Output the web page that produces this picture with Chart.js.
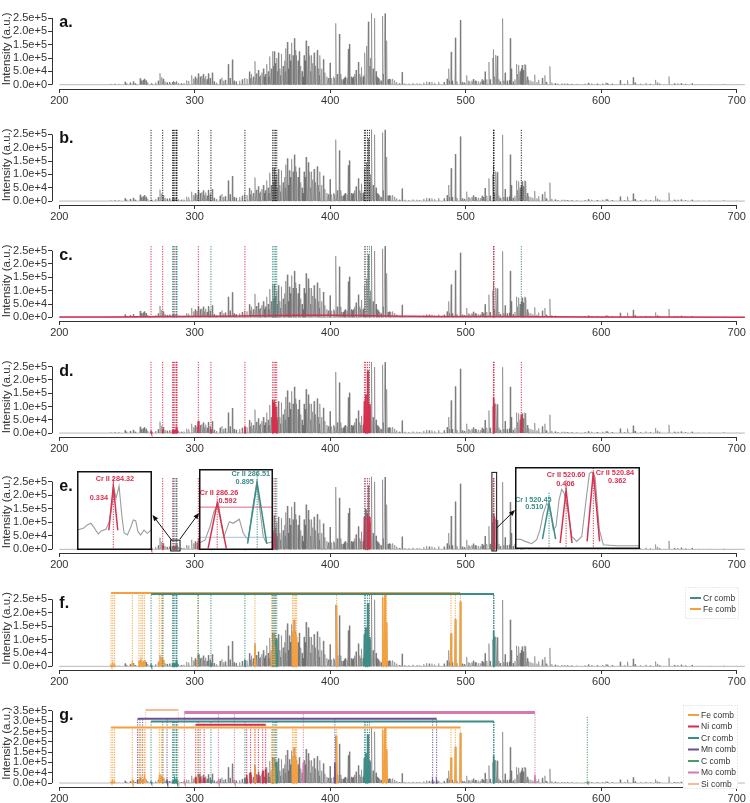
<!DOCTYPE html>
<html><head><meta charset="utf-8">
<script src="https://cdn.jsdelivr.net/npm/chart.js@4.4.1/dist/chart.umd.min.js"></script>
<style>
html,body{margin:0;padding:0;background:#fff;overflow:hidden;width:750px;height:803px}
#wrap{position:relative;width:750px;height:803px;overflow:hidden}
canvas{position:absolute;left:0}
</style></head><body><div id="wrap"></div>
<script>
// ---------------- DATA ----------------
const xTicks=[200,300,400,500,600,700];
const yTicks=[0,50000,100000,150000,200000,250000];
const yTicksG=[0,50000,100000,150000,200000,250000,300000,350000];
const panelLetters=['a.','b.','c.','d.','e.','f.','g.'];
const yTitle='Intensity (a.u.)';

// spectrum lines [wavelength nm, intensity]
const spec236_300=[[238,3e3],[241,4e3],[244,3e3],[248.5,1.1e4],[249.6,6e3],[252.3,8e3],[254.6,1.2e4],[256,5e3],[259.6,2.4e4],[260.6,1.5e4],[261.8,1.8e4],[262.8,2.2e4],[264,1.6e4],[265.2,9e3],[268,5e3],[271,8e3],[273,1.5e4],[274.3,4.3e4],[275.6,2.8e4],[276.7,2.2e4],[278,1.2e4],[279.5,9e3],[281.3,1e4],[283.5,1e4],[284.3,1.4e4],[285.2,9e3],[286.2,1.1e4],[286.6,1.3e4],[288,7e3],[290,5e3],[292,6e3],[294,1.6e4],[295.5,1.4e4],[297.7,3.5e4],[299.2,2.2e4]];
const spec300_400=[[300.3,3e4],[301.5,2.4e4],[302.6,4.2e4],[304,3e4],[305.2,3.3e4],[306.3,4e4],[307.3,2.2e4],[308.2,3.2e4],[309.2,2e4],[310,4.2e4],[311.3,2.5e4],[312.9,4.5e4],[314.3,1.2e4],[316,8e3],[318.6,2e4],[320,2.6e4],[321.2,1.5e4],[322.5,1.8e4],[324.7,7.7e4],[326,2.5e4],[327.7,9.4e4],[329,1.5e4],[330.5,1.2e4],[333,1.5e4],[335,2e4],[336.8,2.5e4],[338.5,2.2e4],[340.3,4.9e4],[341.2,2.5e4],[342,4e4],[343.2,3e4],[344.4,8.8e4],[345.5,4.2e4],[346.9,5.5e4],[347.8,3e4],[348.5,3.5e4],[349.5,4.5e4],[350.6,6e4],[351.4,3e4],[352.1,4e4],[353.1,7.7e4],[354.2,5e4],[354.9,3e4],[355.5,1.06e5],[356.5,6e4],[357.5,1.25e5],[358.1,7e4],[358.7,1.25e5],[359.4,8e4],[360.5,1.0e5],[361.1,5e4],[361.7,1.2e5],[362.8,6e4],[363.4,3.5e4],[364.1,1.15e5],[365.2,7e4],[366.2,9e4],[366.8,5e4],[367.3,1.36e5],[368.3,1.6e5],[369.1,6e4],[369.8,1.15e5],[370.6,9e4],[371.5,1.57e5],[372.5,1.1e5],[373.5,1.74e5],[374.5,1.3e5],[375.2,1.1e5],[376.2,9e4],[377.1,1.25e5],[378.2,7e4],[379.2,5e4],[379.9,3e4],[380.6,1.1e5],[381.4,9e4],[382.1,1.65e5],[382.8,1.55e5],[383.8,1.45e5],[384.9,1.1e5],[385.7,5e4],[386.3,1.1e5],[387.2,8e4],[388,1.2e5],[388.7,4e4],[389.2,7e4],[390.4,1.3e5],[391.4,6e4],[392,3.5e4],[392.4,1.1e5],[393.5,6e4],[394.9,9.5e4],[396,4.5e4],[397.5,3e4],[398.6,2.5e4],[399.8,8.2e4]];
const spec400_500=[[401,2.5e4],[402.5,3e4],[403.3,2.5e4],[404.2,2.3e5],[405.2,4e4],[406.7,1.9e5],[407.8,4e4],[408.6,2e4],[409.5,2e4],[410.3,2.5e4],[411,3e4],[412.3,2.5e4],[413.3,1.34e5],[414.1,1.52e5],[415.5,3e4],[416.3,2.5e4],[417,3e4],[418,4e4],[419,5.5e4],[420.7,8.5e4],[421.8,4e4],[422.6,3e4],[423.2,6.5e4],[424.2,3e4],[424.9,3.5e4],[425.6,1.2e5],[426.8,1.45e5],[428.1,2.36e5],[429.2,7e4],[429.8,1.0e5],[430.6,2.68e5],[431.6,6e4],[432.7,2.49e5],[433.8,5e4],[434.5,3e4],[435.5,2.5e4],[436.5,2e4],[437.5,1.5e4],[438.6,2.57e5],[439.3,4e4],[440.4,2.67e5],[441.6,1.65e5],[442.6,2e4],[443.6,2.2e4],[444.6,2e4],[446,2.2e4],[447.5,1.6e4],[449,1e4],[451,5e3],[453,4.7e4],[455,5e3],[458,4e3],[461,6e3],[464,5e3],[466,4e3],[469,8e3],[471,1.2e4],[473,1e4],[475,1e4],[477,7e3],[480,1.1e4],[484,1e4],[486.2,2.2e4],[487.4,6e4],[488.2,1.5e4],[489.2,1.23e5],[490,1.5e4],[492.3,1.76e5],[493.5,1.2e4],[496,2.42e5],[497.5,1e4],[499,8e3]];
const spec500_706=[[500.7,3.5e4],[502,1.5e4],[503,1.2e4],[504.5,1.5e4],[505.6,2.1e4],[507,1.5e4],[508,1.4e4],[509.5,1.2e4],[511,1.1e4],[512,2e4],[513,1.5e4],[514.2,4.9e4],[515.5,2e4],[517.1,8.5e4],[518,2e4],[520,1.0e5],[520.6,1.32e5],[521.4,3e4],[522.3,1.11e5],[523.3,1.08e5],[524.5,2e4],[525.5,1.2e4],[527.2,2.48e5],[528.2,1.5e4],[529,4.5e4],[530.5,1.5e4],[532.2,1.7e4],[532.8,1.74e5],[533.6,6e4],[535,1.2e4],[536.3,2e4],[537.5,7.7e4],[538.4,4e4],[539.2,7.4e4],[540.1,5e4],[541,6e4],[541.6,7.4e4],[542.5,5.5e4],[543.6,7.7e4],[544.4,7.4e4],[545.5,3e4],[546.5,1.8e4],[548,1.5e4],[549.5,1.2e4],[550.9,3.75e4],[552.5,1e4],[553.8,1.8e4],[556.5,2.5e4],[558.4,3.5e4],[559.5,1e4],[562.1,6.9e4],[563.5,8e3],[566,6e3],[568,4e3],[571,5e3],[573,5e3],[575,4e3],[578,3e3],[582,3e3],[588,4e3],[590.5,7e3],[593,5e3],[597,4e3],[601,5e3],[603.5,8e3],[604.5,6e3],[608,4e3],[614,1.7e4],[617,3e3],[619.4,1.7e4],[623.6,2.8e4],[625,8e3],[629,4e3],[633,6e3],[636,3e3],[640.1,1.8e4],[641.5,9e3],[643,5e3],[650,3.1e4],[654,5e3],[656.5,5e3],[659,6e3],[662,3e3],[667,5e3],[672,2e3],[680,2e3],[690,2e3],[700,1.5e3]];

// fitted baseline (panel c)
const baseX=[200,240,280,320,360,380,400,420,440,480,520,560,600,650,706];
const baseY=[1000,1500,3000,4500,7000,8000,7500,6500,5000,3500,3000,2500,1500,1000,800];

// Cr lines (panels b-e)
const crLines=[267.7,276.3,283.6,284.3,285.2,286.2,286.5,286.9,302.6,311.9,337.0,357.5,358.5,359.5,360.5,425.2,426.1,427.5,428.9,520.45,520.6,520.84,541.0];
const cColors=['r','r','t','t','r','t','t','t','r','t','r','t','t','t','t','t','r','t','t','t','r','r','t'];
const eColors=['r','r','t','r','t','r','t','t','r','t','r','r','t','r','t','r','t','r','r','t','r','r','t'];
const dPeakY=[5e3,1.5e4,1.2e4,1.3e4,1.1e4,1.2e4,1.2e4,1e4,4.5e4,1.5e4,2.5e4,1.25e5,1.15e5,1e5,6e4,1.2e5,1.45e5,2.35e5,1.1e5,1e5,1.32e5,1.1e5,7e4];
const ePeakY=[5e3,1.5e4,1.2e4,1.3e4,1.1e4,1.2e4,1.2e4,1e4,3e4,1.2e4,2e4,6e4,5.5e4,6e4,4e4,1.2e5,1.5e5,1.3e5,1.2e5,9e4,1.3e5,1.2e5,6e4];

// element combs (panels f, g)
const crCombLines=[267.7,276.3,283.6,284.3,285.2,286.2,286.5,286.9,302.6,311.9,337.0,357.5,358.5,359.5,360.5,425.2,426.1,427.5,428.9,520.45,520.6,520.84];
const crCombPeakY=[5e3,1.5e4,1.2e4,1.3e4,1.1e4,1.2e4,1.2e4,1e4,4.5e4,1.5e4,2.5e4,1.25e5,1.15e5,1e5,1.05e5,1.2e5,1.45e5,2.35e5,1.1e5,1e5,1.32e5,1.1e5];
const feLines=[238.2,239.5,240.8,253.9,258.8,260.3,261.5,262.8,273.8,275.3,276.7,302.1,344.4,356.7,357.9,358.9,372.2,373.2,374.2,375.2,404.7,438.7,440.4,441.6,489.1,492.3,496.0];
const fePeakY=[4e3,5e3,4e3,1e4,2e4,1.6e4,1.5e4,2.2e4,2e4,3.5e4,2.5e4,3.5e4,8e4,6e4,1.2e5,8e4,1.3e5,1.74e5,1.2e5,1.1e5,2.3e5,2.57e5,2.67e5,1.65e5,1.23e5,1.76e5,2.42e5];
const niLines=[300.7,303.9,306.9,338.3,341.2,344.4,346.9,350.1,352.3];
const niPeakY=[3e4,2e4,2.5e4,4e4,5.5e4,5e4,4e4,6e4,7e4];
const mnLines=[257.8,259.5,261.5,279.5,403.4,475.6,478.5];
const mnPeakY=[1.5e4,1.5e4,1.2e4,1e4,1e5,8e3,8e3];
const moLines=[292.3,317.4,329.2,380.1,551.1];
const moPeakY=[8e3,1e4,8e3,1e5,2e4];
const cLines=[589.7];
const cPeakY=[3e3];
const siLines=[263.7,287.8];
const siPeakY=[1e4,6e3];
const combNamesF=['Cr comb','Fe comb'];
const combTopF=[270000,274000];
const combNamesG=['Fe comb','Ni comb','Cr comb','Mn comb','C comb','Mo comb','Si comb'];
const combTopG=[270000,283000,299000,312000,321000,342000,354000];

// insets (panel e): wavelength, relative height 0-100
const ins1X=[284.095,284.132,284.157,284.179,284.199,284.226,284.247,284.274,284.295,284.316,284.326,284.337,284.356,284.374,284.387,284.408,284.429,284.445,284.46,284.474,284.491,284.512,284.533,284.56];
const ins1Y=[25.3,27.4,31.6,33.8,28.7,20.3,24.5,26.2,35.9,61.2,76,65.4,81,42.2,21.9,19,28.7,38,37.1,23.2,19,25.3,21.1,26.2];
const ins2X=[286.146,286.184,286.215,286.24,286.267,286.285,286.302,286.336,286.36,286.398,286.423,286.454,286.48,286.507,286.53,286.548,286.569,286.61];
const ins2Y=[8.3,12.4,29,48,57.9,35,16.5,35,33,38,20.7,12.4,50,83.5,45,16.5,8.3,10.3];
const ins3X=[520.15,520.194,520.238,520.297,520.341,520.37,520.399,520.429,520.458,520.487,520.511,520.538,520.561,520.584,520.62,520.65,520.694,520.738,520.776,520.805,520.826,520.855,520.893,520.928,521.046,521.251];
const ins3Y=[11.3,12.1,9.3,6.5,11.3,23.4,43.5,55.6,49.6,23.4,27.4,59.7,72.6,67.7,43.5,15.3,9.3,15.3,59.7,91.9,94,87.9,23.4,5.2,4,4];
const ins1Peaks=[284.32], ins1PeakY=[81], ins1PeakC=['r'];
const ins2Peaks=[286.26,286.51], ins2PeakY=[58,83], ins2PeakC=['r','t'];
const ins3Peaks=[520.45,520.60,520.84], ins3PeakY=[55.6,71.8,94], ins3PeakC=['t','r','r'];
const ins1Labels=['Cr II 284.32','0.334'];
const ins2Labels=['Cr II 286.51','0.895','Cr II 286.26','0.592'];
const ins3Labels=['Cr I 520.45','0.510','Cr II 520.60','0.406','Cr II 520.84','0.362'];
const ins2Levels=[52.9,15.7];

// ---------------- STYLE / LAYOUT ----------------
const FONT='"Liberation Sans", Arial, Helvetica, sans-serif';
Chart.defaults.font.family=FONT;
const RED='#d8304f', TEAL='#3a8e89', FE='#f4a03f', NI='#d62d4c', CR='#3c8c87', MN='#6b4f91', CC='#4e9b60', MO='#d57aae', SI='#f7bc92';
const GRAY='rgba(95,95,95,0.45)';
const DOT=[1.2,1.3];
const panels=[
 {At:1,  Pt:11.3, P0:84.3, Ab:89,  tick:250000},
 {At:117,Pt:127.7,P0:200.7,Ab:205, tick:250000},
 {At:233,Pt:244,  P0:317,  Ab:321, tick:250000},
 {At:349,Pt:360,  P0:432.7,Ab:437, tick:250000},
 {At:463,Pt:475,  P0:549,  Ab:553, tick:250000},
 {At:579,Pt:593,  P0:666,  Ab:670, tick:250000},
 {At:692,Pt:704.3,P0:782.7,Ab:787, tick:350000}
];
const XMIN=194.6, XMAX=706.1;
const wrap=document.getElementById('wrap');

// ---------------- HELPERS ----------------
function spectrumPts(){
  const all=[].concat(spec236_300,spec300_400,spec400_500,spec500_706).sort((a,b)=>a[0]-b[0]);
  const p=[{x:200,y:0}];
  all.forEach(([x,h])=>{p.push({x:x-0.35,y:0},{x:x,y:h},{x:x+0.35,y:0});});
  p.push({x:706,y:0});
  return p;
}
function spikes(xs,hs,hw,base){const p=[];xs.forEach((x,i)=>{p.push({x:x-hw,y:base||0},{x:x,y:hs[i]},{x:x+hw,y:base||0},{x:x,y:null});});return p;}
function vlines(xs,top,bottom){const p=[];xs.forEach(x=>{p.push({x:x,y:bottom||0},{x:x,y:top},{x:x,y:null});});return p;}
function pick(arr,cols,c){return arr.filter((_,i)=>cols[i]===c);}
function ds(data,color,w,dash,order){return {data,borderColor:color,backgroundColor:color,borderWidth:w,borderDash:dash||[],pointRadius:0,pointHoverRadius:0,tension:0,fill:false,spanGaps:false,order:order||0,borderCapStyle:'butt'};}
function comb(xs,top,color,w){return ds([{x:Math.min(...xs),y:top},{x:Math.max(...xs),y:top}],color,w||2,null,1);}

const spectrum=spectrumPts();

const axisPlugin={id:'axisLines',afterDraw(chart){
  const {ctx,chartArea:a,scales:{x,y}}=chart;
  ctx.save();ctx.strokeStyle='#333';ctx.lineWidth=1;ctx.beginPath();
  const yt=y.ticks, xt=x.ticks;
  ctx.moveTo(a.left+0.5,y.getPixelForValue(yt[0].value));ctx.lineTo(a.left+0.5,y.getPixelForValue(yt[yt.length-1].value));
  ctx.moveTo(x.getPixelForValue(xt[0].value),a.bottom+0.5);ctx.lineTo(x.getPixelForValue(xt[xt.length-1].value),a.bottom+0.5);
  ctx.stroke();ctx.restore();
}};
function letterPlugin(txt){return {id:'letter',afterDraw(chart){
  const {ctx,scales:{x,y}}=chart;const yt=y.ticks;
  ctx.save();ctx.fillStyle='#111';ctx.font='bold 16px '+FONT;ctx.textAlign='left';ctx.textBaseline='alphabetic';
  ctx.fillText(txt,x.getPixelForValue(200),y.getPixelForValue(yt[yt.length-1].value)+9);ctx.restore();
}};}
function legendPlugin(names,colors,box,canvasTop){return {id:'legendBox',afterDraw(chart){
  const ctx=chart.ctx;ctx.save();
  const bx=box.x, by=box.y-canvasTop;
  ctx.fillStyle='#fff';ctx.fillRect(bx,by,box.w,box.h);
  ctx.strokeStyle='#d4d4d4';ctx.lineWidth=1;ctx.setLineDash([1,2]);ctx.strokeRect(bx+0.5,by+0.5,box.w-1,box.h-1);ctx.setLineDash([]);
  ctx.font='8.5px '+FONT;ctx.textBaseline='middle';ctx.textAlign='left';
  names.forEach((n,i)=>{const yy=by+box.first+i*box.step;
    ctx.strokeStyle=colors[i];ctx.lineWidth=2;ctx.beginPath();ctx.moveTo(bx+5,yy);ctx.lineTo(bx+16,yy);ctx.stroke();
    ctx.fillStyle='#333';ctx.fillText(n,bx+18,yy+0.5);});
  ctx.restore();
}};}

function makePanel(idx,datasets,extra){
  const p=panels[idx];
  const H=p.Ab-p.At+22;
  const cv=document.createElement('canvas');cv.width=750;cv.height=H;cv.style.top=p.At+'px';cv.style.width='750px';cv.style.height=H+'px';
  wrap.appendChild(cv);
  const k=(p.P0-p.Pt)/p.tick;
  const ymin=-(p.Ab-p.P0)/k, ymax=(p.P0-p.At)/k;
  const yt=p.tick===350000?yTicksG:yTicks;
  return new Chart(cv,{type:'line',data:{datasets},
    options:{responsive:false,animation:false,devicePixelRatio:1,events:[],
      layout:{padding:{top:0,left:0,right:5,bottom:0}},
      plugins:{legend:{display:false},tooltip:{enabled:false}},
      scales:{
        x:{type:'linear',min:XMIN,max:XMAX,afterBuildTicks:s=>{s.ticks=xTicks.map(v=>({value:v}));},afterFit:s=>{s.height=22;},
           grid:{drawOnChartArea:false,drawTicks:true,tickLength:4,color:'#333',lineWidth:1},border:{display:false},
           ticks:{autoSkip:false,maxRotation:0,padding:1,color:'#333',font:{size:11},callback:v=>String(v)}},
        y:{type:'linear',min:ymin,max:ymax,afterBuildTicks:s=>{s.ticks=yt.map(v=>({value:v}));},afterFit:s=>{s.width=52;},
           grid:{drawOnChartArea:false,drawTicks:true,tickLength:4,color:'#333',lineWidth:1},border:{display:false},
           title:{display:true,text:yTitle,color:'#333',font:{size:11.5},padding:{top:0,bottom:0}},
           ticks:{autoSkip:false,padding:1,color:'#333',font:{size:11},callback:v=>v.toExponential(1)}}
      }},
    plugins:[axisPlugin,letterPlugin(panelLetters[idx])].concat(extra||[])});
}

// ---------------- PANELS ----------------
// a
makePanel(0,[ds(spectrum,GRAY,1,null,10)]);
// b
makePanel(1,[ds(spectrum,GRAY,1,null,10),ds(vlines(crLines,270000),'#222',1,DOT,2)]);
// c
makePanel(2,[ds(spectrum,GRAY,1,null,10),
  ds(baseX.map((x,i)=>({x,y:baseY[i]})),RED,1.5,null,1),
  ds(vlines(pick(crLines,cColors,'r'),270000),RED,1,DOT,2),
  ds(vlines(pick(crLines,cColors,'t'),270000),TEAL,1,DOT,2)]);
// d
makePanel(3,[ds(spectrum,GRAY,1,null,10),
  ds(spikes(crLines,dPeakY,0.35),RED,1.6,null,3),
  ds(vlines(crLines,270000),RED,1,DOT,2)]);
// e
const eBoxes=[[282.2,289.1,-6000,34000],[519.3,522.8,-6000,284000]];
const eArrows=[[171.5,540,152.5,515],[180,539,199,513],[496.7,528,515,510]];
const eTop=panels[4].At;
const eOverlay={id:'eOverlay',afterDraw(chart){
  const {ctx,scales:{x,y}}=chart;ctx.save();ctx.strokeStyle='#111';ctx.fillStyle='#111';ctx.lineWidth=1;
  eBoxes.forEach(b=>{const x0=x.getPixelForValue(b[0]),x1=x.getPixelForValue(b[1]),y0=y.getPixelForValue(b[2]),y1=y.getPixelForValue(b[3]);ctx.strokeRect(x0,y1,x1-x0,y0-y1);});
  eArrows.forEach(a=>{const sx=a[0],sy=a[1]-eTop,ex=a[2],ey=a[3]-eTop;const ang=Math.atan2(ey-sy,ex-sx);
    ctx.beginPath();ctx.moveTo(sx,sy);ctx.lineTo(ex-4*Math.cos(ang),ey-4*Math.sin(ang));ctx.stroke();
    ctx.beginPath();ctx.moveTo(ex,ey);ctx.lineTo(ex-6*Math.cos(ang)+2.5*Math.sin(ang),ey-6*Math.sin(ang)-2.5*Math.cos(ang));
    ctx.lineTo(ex-6*Math.cos(ang)-2.5*Math.sin(ang),ey-6*Math.sin(ang)+2.5*Math.cos(ang));ctx.closePath();ctx.fill();});
  ctx.restore();}};
makePanel(4,[ds(spectrum,GRAY,1,null,10),
  ds(spikes(pick(crLines,eColors,'r'),pick(ePeakY,eColors,'r'),0.35),RED,1.6,null,3),
  ds(spikes(pick(crLines,eColors,'t'),pick(ePeakY,eColors,'t'),0.35),TEAL,1.6,null,3),
  ds(vlines(pick(crLines,eColors,'r'),265000),RED,1,DOT,2),
  ds(vlines(pick(crLines,eColors,'t'),265000),TEAL,1,DOT,2)],[eOverlay]);
// f
const fTop=panels[5].At;
makePanel(5,[ds(spectrum,GRAY,1,null,10),
  ds(spikes(crCombLines,crCombPeakY,0.35),CR,1.6,null,4),
  ds(spikes(feLines,fePeakY,0.35),FE,1.6,null,3),
  ds(vlines(crCombLines,combTopF[0]),CR,1,DOT,2),
  ds(vlines(feLines,combTopF[1]),FE,1,DOT,2),
  comb(crCombLines,combTopF[0],CR,2),comb(feLines,combTopF[1],FE,2)],
  [legendPlugin(combNamesF,[CR,FE],{x:685,y:587,w:54,h:32,first:11,step:11},fTop)]);
// g
const gTop=panels[6].At;
const gSets=[[feLines,fePeakY,FE],[niLines,niPeakY,NI],[crCombLines,crCombPeakY,CR],[mnLines,mnPeakY,MN],[cLines,cPeakY,CC],[moLines,moPeakY,MO],[siLines,siPeakY,SI]];
const gData=[ds(spectrum,GRAY,1,null,10)];
gSets.forEach((s,i)=>{
  gData.push(ds(spikes(s[0],s[1],0.35),s[2],1.6,null,4));
  gData.push(ds(vlines(s[0],combTopG[i]),s[2],1,DOT,2));
  if(s[0].length>1) gData.push(comb(s[0],combTopG[i],s[2],i===5?3:2));
});
makePanel(6,gData,[legendPlugin(combNamesG,gSets.map(s=>s[2]),{x:683,y:705,w:55,h:84,first:10,step:11.5},gTop)]);

// ---------------- INSETS (panel e) ----------------
function insetChart(box,xmin,xmax,cx,cy,px,py,pc,hw,base,labels,lx,ly,lc,levels){
  const cv=document.createElement('canvas');cv.width=box.w;cv.height=box.h;
  cv.style.left=box.left+'px';cv.style.top=box.top+'px';cv.style.width=box.w+'px';cv.style.height=box.h+'px';
  wrap.appendChild(cv);
  const col=c=>c==='r'?RED:TEAL;
  const sets=[ds(cx.map((x,i)=>({x,y:cy[i]})),'#9c9c9c',1.1,null,5)];
  (levels||[]).forEach((v,i)=>sets.push(ds([{x:xmin,y:v},{x:xmax,y:v}],i===0?'rgba(216,48,79,0.75)':'#a9c2cf',1,null,4)));
  px.forEach((x,i)=>{
    sets.push(ds([{x:x-hw[i],y:base[i]},{x:x,y:py[i]},{x:x+hw[i],y:base[i]}],col(pc[i]),1.5,null,2));
    sets.push(ds(vlines([x],py[i]+14),col(pc[i]),1,DOT,3));
  });
  new Chart(cv,{type:'line',data:{datasets:sets},options:{responsive:false,animation:false,devicePixelRatio:1,events:[],
    layout:{padding:0},plugins:{legend:{display:false},tooltip:{enabled:false}},
    scales:{x:{type:'linear',display:false,min:xmin,max:xmax},y:{type:'linear',display:false,min:0,max:100}}},
    plugins:[{id:'insetDeco',beforeDraw(ch){ch.ctx.save();ch.ctx.fillStyle='#fff';ch.ctx.fillRect(0,0,box.w,box.h);ch.ctx.restore();},
      afterDraw(ch){const ctx=ch.ctx,x=ch.scales.x,y=ch.scales.y;ctx.save();
        ctx.font='bold 7.3px '+FONT;ctx.textAlign='center';ctx.textBaseline='middle';
        labels.forEach((t,i)=>{ctx.fillStyle=col(lc[i]);ctx.fillText(t,x.getPixelForValue(lx[i]),y.getPixelForValue(ly[i]));});
        ctx.strokeStyle='#111';ctx.lineWidth=1.5;ctx.strokeRect(0.75,0.75,box.w-1.5,box.h-1.5);ctx.restore();}}]});
}
insetChart({left:77,top:471,w:75,h:79},284.093,284.562,ins1X,ins1Y,ins1Peaks,ins1PeakY,ins1PeakC,[0.028],[25],
  ins1Labels,[284.33,284.23],[90,65.4],['r','r']);
insetChart({left:199,top:469,w:74,h:81},286.146,286.609,ins2X,ins2Y,ins2Peaks,ins2PeakY,ins2PeakC,[0.057,0.06],[2,8],
  ins2Labels,[286.47,286.432,286.271,286.325],[93.8,83.5,70.2,59.9],['t','t','r','r'],ins2Levels);
insetChart({left:515,top:467,w:125,h:82},520.15,521.251,ins3X,ins3Y,ins3Peaks,ins3PeakY,ins3PeakC,[0.058,0.052,0.055],[12,7.3,9.3],
  ins3Labels,[520.311,520.32,520.6,520.594,521.03,521.05],[59.7,51.6,90.7,79.8,93.1,83],['t','t','r','r','r','r']);
</script></body></html>
